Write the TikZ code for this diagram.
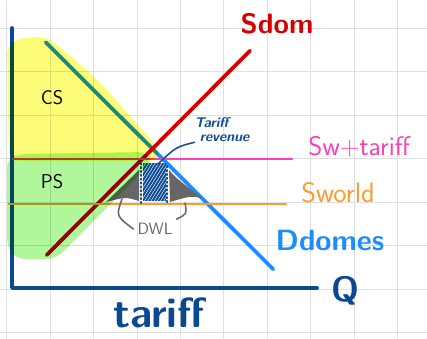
\documentclass[tikz,border=0pt]{standalone}
\usepackage{tikz}
\usetikzlibrary{calc}

\definecolor{axisblue}{HTML}{0B4A91}
\definecolor{supred}{HTML}{D60000}
\definecolor{demblue}{HTML}{1E8CFF}
\definecolor{tarpink}{HTML}{FF3DB5}
\definecolor{worange}{HTML}{FF9A2E}
\definecolor{hiyellow}{HTML}{FCFC78}
\definecolor{higreen}{HTML}{B0F79C}
\definecolor{revblue}{HTML}{0F4E96}
\definecolor{dwlgray}{HTML}{666666}

\tikzset{
  gridline/.style={black!12,line width=0.7pt},
  axis/.style={axisblue,line width=3.2pt},
  curve/.style={line width=3.2pt},
  price/.style={line width=2pt},
  hand/.style={font=\sffamily\bfseries},
}

\begin{document}
\begin{tikzpicture}[x=0.03cm,y=-0.03cm,line cap=round,line join=round]
  \useasboundingbox (0,0) rectangle (427,338);
  \fill[white] (0,0) rectangle (427,338);
  % grid
  \foreach \i in {0,...,9} \draw[gridline] (6.8+43.4*\i,0) -- (6.8+43.4*\i,338);
  \foreach \j in {0,...,7} \draw[gridline] (0,28.3+43.5*\j) -- (427,28.3+43.5*\j);
  % axes
  \coordinate (ytop) at (12,28);
  \coordinate (o) at (12,288);
  \coordinate (xend) at (317,288);
  \draw[axis] (ytop) -- (o) -- (xend);
  % domestic demand and supply
  \coordinate (d1) at (45.7,42.3);
  \coordinate (d2) at (273.3,269.3);
  \coordinate (s1) at (46.7,255);
  \coordinate (s2) at (250,50.7);
  \draw[curve,demblue] (d1) -- (d2);
  \draw[curve,supred] (s1) -- (s2);
  % world price, with and without tariff
  \coordinate (pt0) at (13,159.3);
  \coordinate (pt1) at (292,159.3);
  \coordinate (pw0) at (9,204);
  \coordinate (pw1) at (286,204);
  \draw[price,tarpink] (pt0) -- (pt1);
  \draw[price,worange] (pw0) -- (pw1);
  % tariff revenue
  \begin{scope}
    \clip (143,163) rectangle (166,200);
    \foreach \k in {0,...,20} \draw[revblue,line width=1.7pt] (118+3.2*\k,205) -- (146+3.2*\k,160);
  \end{scope}
  \coordinate (rl1) at (141,163);
  \coordinate (rl2) at (141,204);
  \coordinate (rr1) at (167,166);
  \coordinate (rr2) at (167,204);
  \draw[revblue,line width=1.3pt,dotted] (rl1) -- (rl2);
  \draw[revblue,line width=1.3pt,dotted] (rr1) -- (rr2);
  % deadweight loss
  \fill[dwlgray] (139,170) -- (139,201) .. controls (126,197) .. (106,202) -- cycle;
  \fill[dwlgray] (169,170) .. controls (176,178) .. (202,198) .. controls (190,196) .. (170,202) -- cycle;
  % highlighted surplus areas
  \begin{scope}[blend mode=multiply]
    \fill[hiyellow,rounded corners=8pt] (7,46) -- (18,38) -- (48,37) -- (96,78) -- (157,146) -- (159,161) -- (9,161) -- cycle;
    \fill[higreen,rounded corners=8pt] (7,158) -- (20,154) -- (148,152) -- (152,162) -- (56,259) -- (16,259) -- (7,248) -- cycle;
  \end{scope}
  % labels
  \node[font=\sffamily\fontsize{17}{20}\selectfont] (cs) at (52,98) {CS};
  \node[font=\sffamily\fontsize{17}{20}\selectfont] (ps) at (52,182) {PS};
  \node[hand,supred,font=\sffamily\bfseries\fontsize{24}{28}\selectfont] (sdom) at (277,24) {Sdom};
  \node[tarpink,font=\sffamily\fontsize{23}{26}\selectfont] (stlab) at (359,147) {Sw+tariff};
  \node[worange,font=\sffamily\fontsize{24}{26}\selectfont] (swlab) at (338,193) {Sworld};
  \node[hand,demblue,font=\sffamily\bfseries\fontsize{25}{28}\selectfont] (ddom) at (330,240) {Ddomes};
  \node[hand,axisblue,font=\sffamily\bfseries\fontsize{30}{34}\selectfont] (qlab) at (345,291) {Q};
  \node[hand,axisblue,font=\sffamily\bfseries\fontsize{36}{40}\selectfont] (tariff) at (159,313) {tariff};
  \node[revblue,align=left,inner sep=0pt,font=\sffamily\bfseries\itshape\fontsize{12}{12}\selectfont] (rev) at (222,130) {Tariff\\ \ revenue};
  \node[dwlgray,font=\sffamily\fontsize{14}{16}\selectfont] (dwl) at (155,229) {DWL};
  % pointers
  \coordinate (revtip) at (158,164);
  \draw[revblue,line width=1.3pt] (rev.south west) .. controls (176,147) .. (revtip);
  \coordinate (dwlA) at (122,199);
  \coordinate (dwlB) at (185,203);
  \draw[dwlgray,line width=1.3pt] (dwlA) .. controls (116,216) .. (dwl.west);
  \draw[dwlgray,line width=1.3pt] (dwlB) .. controls (187,214) .. (dwl.north east);
\end{tikzpicture}
\end{document}
